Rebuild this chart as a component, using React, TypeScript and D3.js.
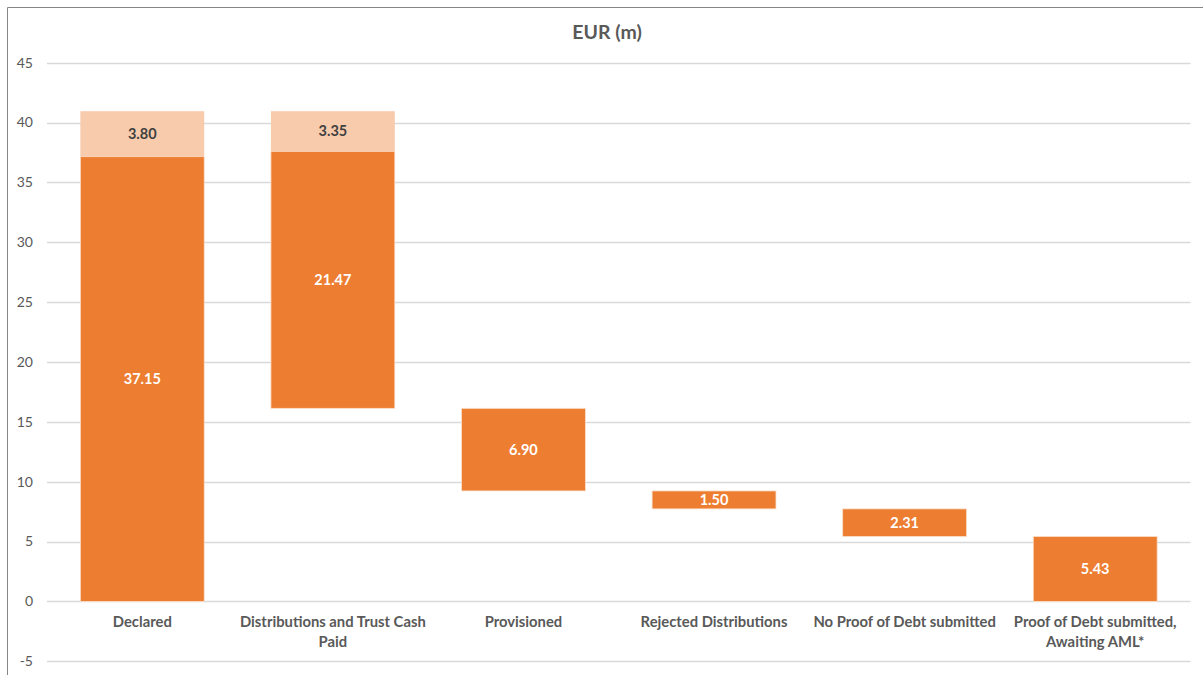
import React from "react";
import * as d3 from "d3";

const categories = [
  "Declared",
  "Distributions and Trust Cash\nPaid",
  "Provisioned",
  "Rejected Distributions",
  "No Proof of Debt submitted",
  "Proof of Debt submitted,\nAwaiting AML*",
];
const baseValues = [0, 16.13, 9.23, 7.73, 5.42, 0];
const mainValues = [37.15, 21.47, 6.9, 1.5, 2.31, 5.43];
const extraValues = [3.8, 3.35, 0, 0, 0, 0];
const yTicks = [-5, 0, 5, 10, 15, 20, 25, 30, 35, 40, 45];
const title = "EUR (m)";

const W = 1203;
const H = 675;
const FONT = "Lato, 'Open Sans', sans-serif";
const ORANGE = "#ED7D31";
const LIGHT = "#F8CBAD";
const TEXT = "#595959";

export default function App() {
  const x = d3
    .scaleBand<string>()
    .domain(categories)
    .range([47, 1190.5])
    .paddingInner(0.35)
    .paddingOuter(0.175);
  const y = d3.scaleLinear().domain([-5, 45]).range([661.3, 62.7]);

  return (
    <svg
      width={W}
      height={H}
      style={{ position: "absolute", left: 0, top: 0, background: "#fff" }}
      fontFamily={FONT}
    >
      <rect x={0} y={0} width={W} height={H} fill="#fff" />
      <line x1={7.5} y1={7.5} x2={W} y2={7.5} stroke="#868686" strokeWidth={1} />
      <line x1={7.5} y1={7.5} x2={7.5} y2={H} stroke="#868686" strokeWidth={1} />

      <text
        x={607}
        y={39}
        textAnchor="middle"
        fontSize={19.5}
        fontWeight="bold"
        fill={TEXT}
      >
        {title}
      </text>

      {yTicks.map((t) => (
        <g key={t}>
          <line
            x1={47}
            x2={1190.5}
            y1={Math.round(y(t)) + 0.5}
            y2={Math.round(y(t)) + 0.5}
            stroke="#D9D9D9"
            strokeWidth={1.3}
          />
          <text
            x={33}
            y={y(t)}
            dy="0.35em"
            textAnchor="end"
            fontSize={14}
            fill={TEXT}
          >
            {t}
          </text>
        </g>
      ))}

      {categories.map((c, i) => {
        const bx = x(c)!;
        const bw = x.bandwidth();
        const b = baseValues[i];
        const m = mainValues[i];
        const e = extraValues[i];
        const yTopMain = y(b + m);
        const yBotMain = y(b);
        const yTopExtra = y(b + m + e);
        return (
          <g key={c}>
            <rect
              x={bx}
              y={yTopMain}
              width={bw}
              height={yBotMain - yTopMain}
              fill={ORANGE}
              stroke="#FBE0CC"
              strokeWidth={0.8}
            />
            {e > 0 && (
              <rect
                x={bx}
                y={yTopExtra}
                width={bw}
                height={yTopMain - yTopExtra}
                fill={LIGHT}
              />
            )}
            <text
              x={bx + bw / 2}
              y={(yTopMain + yBotMain) / 2}
              dy="0.35em"
              textAnchor="middle"
              fontSize={14.5}
              fontWeight="bold"
              fill="#fff"
            >
              {m.toFixed(2)}
            </text>
            {e > 0 && (
              <text
                x={bx + bw / 2}
                y={(yTopExtra + yTopMain) / 2}
                dy="0.35em"
                textAnchor="middle"
                fontSize={14.5}
                fontWeight="bold"
                fill="#404040"
              >
                {e.toFixed(2)}
              </text>
            )}
            <text
              x={bx + bw / 2}
              y={623}
              textAnchor="middle"
              fontSize={14.8}
              fontWeight="bold"
              fill={TEXT}
            >
              {c.split("\n").map((line, k) => (
                <tspan key={k} x={bx + bw / 2} y={622 + k * 19.5} dy="0.35em">
                  {line}
                </tspan>
              ))}
            </text>
          </g>
        );
      })}
    </svg>
  );
}
